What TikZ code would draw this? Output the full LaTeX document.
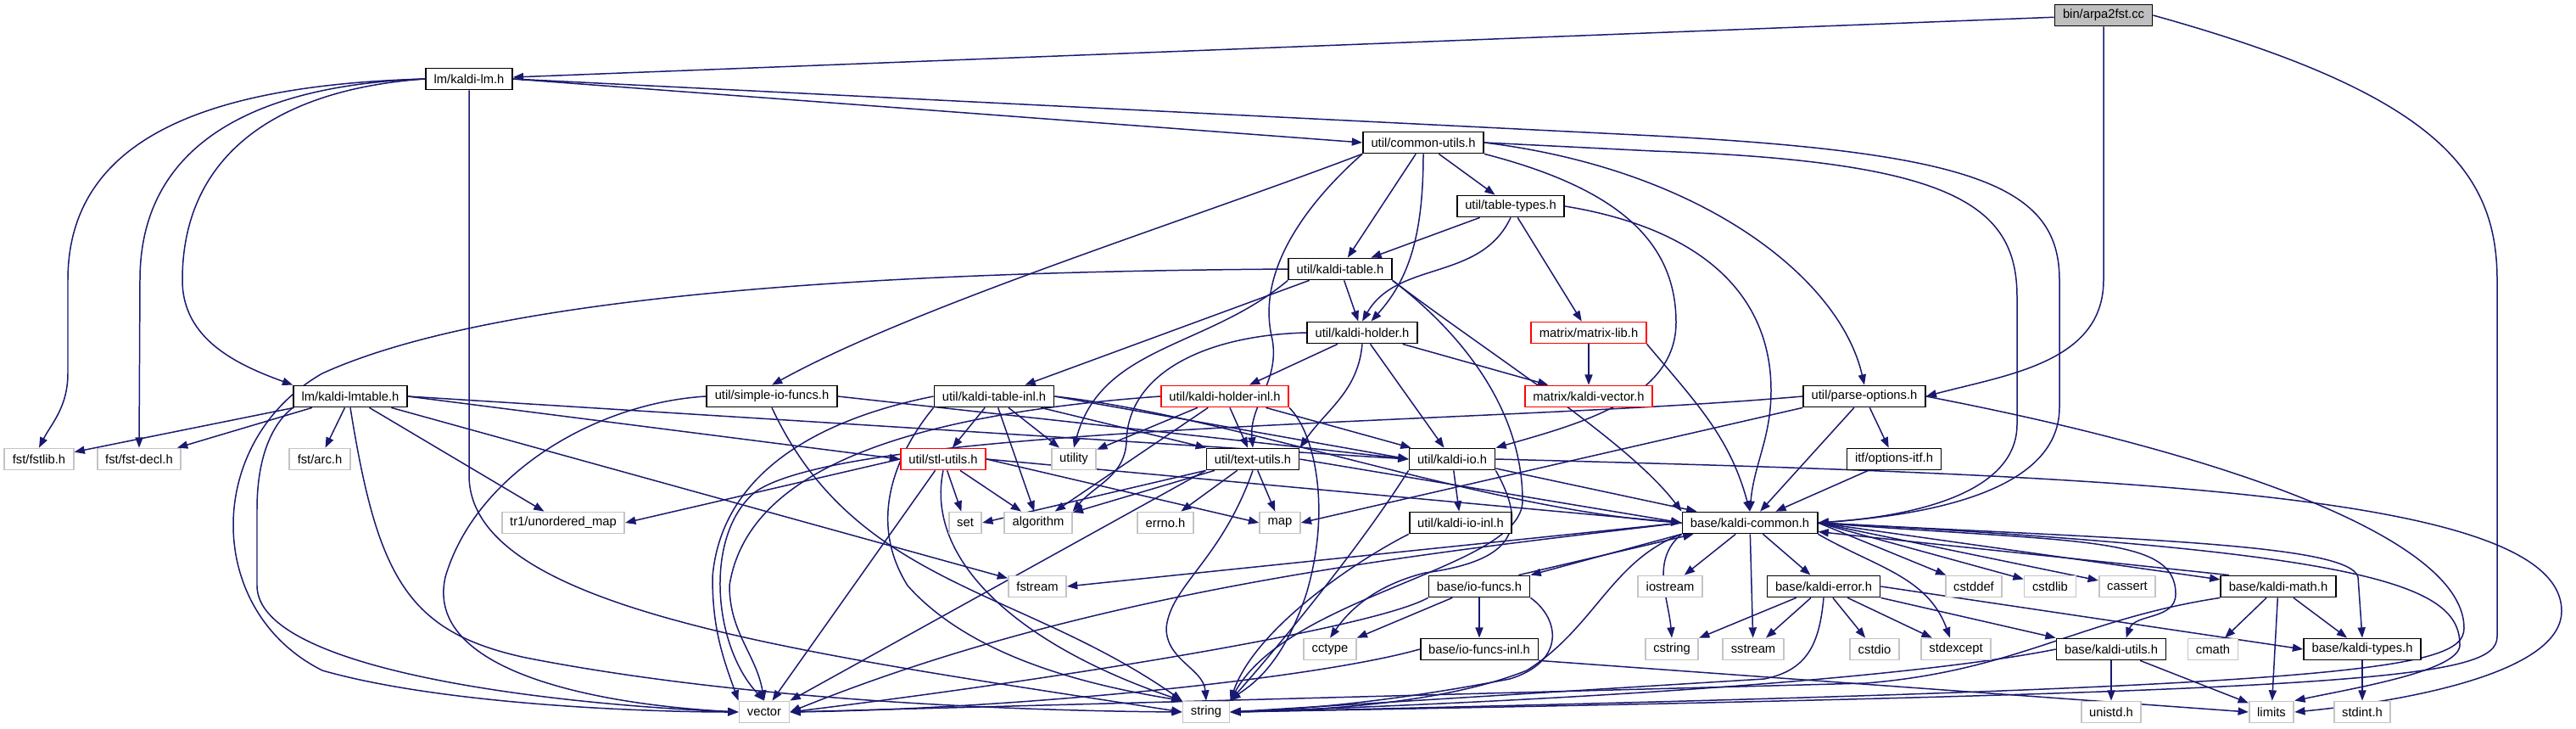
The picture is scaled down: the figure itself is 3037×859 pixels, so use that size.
\documentclass[tikz,border=0pt]{standalone}
\usepackage{fontspec}
\setmainfont{Liberation Sans}
\usepackage{tikz}
\usetikzlibrary{arrows.meta,backgrounds}
\definecolor{edgeblue}{HTML}{191970}
\definecolor{rootgray}{HTML}{BFBFBF}
\definecolor{sysgray}{HTML}{C4C4C4}
\definecolor{cutred}{HTML}{FF0000}
\tikzset{filebox/.style={draw=black,fill=white,line width=1pt,minimum height=.5cm,inner xsep=5.4pt,inner ysep=0pt,font=\fontsize{8.4}{10}\selectfont},rootbox/.style={filebox,fill=rootgray},cutbox/.style={filebox,draw=cutred},sysbox/.style={filebox,draw=sysgray},incl/.style={draw=edgeblue,line width=.85pt,-{Triangle[length=7pt,width=5.2pt]}}}

\begin{document}
\begin{tikzpicture}[x=0.02cm,y=0.02cm]
\useasboundingbox (0,0) rectangle (3037,-859);
\node[rootbox] (arpa) at (2480,-18) {bin/arpa2fst.cc};
\node[filebox] (kaldilm) at (553,-93) {lm/kaldi-lm.h};
\node[filebox] (commonutils) at (1678,-168) {util/common-utils.h};
\node[filebox] (tabletypes) at (1781,-243) {util/table-types.h};
\node[filebox] (kalditable) at (1580,-317) {util/kaldi-table.h};
\node[filebox] (kaldiholder) at (1606,-392) {util/kaldi-holder.h};
\node[cutbox] (matrixlib) at (1873,-392) {matrix/matrix-lib.h};
\node[filebox] (lmtable) at (413,-467) {lm/kaldi-lmtable.h};
\node[filebox] (simpleio) at (910,-467) {util/simple-io-funcs.h};
\node[filebox] (tableinl) at (1172,-467) {util/kaldi-table-inl.h};
\node[cutbox] (holderinl) at (1444,-467) {util/kaldi-holder-inl.h};
\node[cutbox] (kaldivector) at (1873,-467) {matrix/kaldi-vector.h};
\node[filebox] (parseoptions) at (2198,-467) {util/parse-options.h};
\node[sysbox] (fstlib) at (46,-541) {fst/fstlib.h};
\node[sysbox] (fstdecl) at (164,-541) {fst/fst-decl.h};
\node[sysbox] (fstarc) at (377,-541) {fst/arc.h};
\node[cutbox] (stlutils) at (1112,-541) {util/stl-utils.h};
\node[sysbox] (utility) at (1266,-541) {utility};
\node[filebox] (textutils) at (1477,-541) {util/text-utils.h};
\node[filebox] (kaldiio) at (1712,-541) {util/kaldi-io.h};
\node[filebox] (optionsitf) at (2233,-541) {itf/options-itf.h};
\node[sysbox] (unorderedmap) at (664,-616) {tr1/unordered\_map};
\node[sysbox] (set) at (1138,-616) {set};
\node[sysbox] (algorithm) at (1224,-616) {algorithm};
\node[sysbox] (errno) at (1374,-616) {errno.h};
\node[sysbox] (map) at (1509,-616) {map};
\node[filebox] (kaldiioinl) at (1722,-616) {util/kaldi-io-inl.h};
\node[filebox] (kaldicommon) at (2063,-616) {base/kaldi-common.h};
\node[sysbox] (fstream) at (1223,-691) {fstream};
\node[filebox] (iofuncs) at (1744,-691) {base/io-funcs.h};
\node[sysbox] (iostream) at (1969,-691) {iostream};
\node[filebox] (kaldierror) at (2150,-691) {base/kaldi-error.h};
\node[sysbox] (cstddef) at (2327,-691) {cstddef};
\node[sysbox] (cstdlib) at (2417,-691) {cstdlib};
\node[sysbox] (cassert) at (2508,-691) {cassert};
\node[filebox] (kaldimath) at (2686,-691) {base/kaldi-math.h};
\node[sysbox] (cctype) at (1568,-765) {cctype};
\node[filebox] (iofuncsinl) at (1744,-765) {base/io-funcs-inl.h};
\node[sysbox] (cstring) at (1971,-765) {cstring};
\node[sysbox] (sstream) at (2067,-765) {sstream};
\node[sysbox] (cstdio) at (2210,-765) {cstdio};
\node[sysbox] (stdexcept) at (2306,-765) {stdexcept};
\node[filebox] (kaldiutils) at (2489,-765) {base/kaldi-utils.h};
\node[sysbox] (cmath) at (2609,-765) {cmath};
\node[filebox] (kalditypes) at (2785,-765) {base/kaldi-types.h};
\node[sysbox] (vector) at (901,-839) {vector};
\node[sysbox] (string) at (1422,-839) {string};
\node[sysbox] (unistd) at (2489,-839) {unistd.h};
\node[sysbox] (limits) at (2678,-839) {limits};
\node[sysbox] (stdint) at (2785,-839) {stdint.h};
\begin{scope}[on background layer]
\draw[incl] (arpa) -- (kaldilm);
\draw[incl] (arpa.south) -- (2480,-330) to[out=-90,in=15] (parseoptions.east);
\draw[incl] (arpa.east) .. controls (2870,-110) and (2944,-200) .. (2944,-330) -- (2944,-750) .. controls (2944,-800) and (2800,-815) .. (string.east);
\draw[incl] (kaldilm.west) .. controls (250,-100) and (80,-160) .. (80,-330) -- (80,-440) .. controls (80,-480) and (60,-500) .. (fstlib.north);
\draw[incl] (kaldilm.west) .. controls (300,-100) and (165,-170) .. (165,-330) -- (fstdecl.north);
\draw[incl] (kaldilm.west) .. controls (330,-105) and (215,-180) .. (215,-330) .. controls (215,-400) and (280,-430) .. (lmtable.north west);
\draw[incl] (kaldilm.south) -- (553,-560) .. controls (553,-720) and (950,-770) .. (string.west);
\draw[incl] (kaldilm.east) -- (commonutils.west);
\draw[incl] (kaldilm.east) -- (1950,-160) .. controls (2330,-180) and (2428,-220) .. (2428,-330) -- (2428,-480) .. controls (2428,-570) and (2300,-605) .. (kaldicommon.east);
\draw[incl] (commonutils.east) -- (1950,-178) .. controls (2300,-190) and (2378,-240) .. (2378,-350) -- (2378,-500) .. controls (2378,-580) and (2260,-608) .. (kaldicommon.east);
\draw[incl] (commonutils.east) .. controls (2010,-200) and (2170,-330) .. (parseoptions.north);
\draw[incl] (commonutils.south east) .. controls (1900,-220) and (1976,-280) .. (1976,-380) .. controls (1976,-470) and (1860,-500) .. (kaldiio.north east);
\draw[incl] (commonutils) -- (tabletypes);
\draw[incl] (commonutils) -- (kalditable);
\draw[incl] (commonutils.south) .. controls (1678,-280) and (1660,-330) .. ([xshift=6pt]kaldiholder.north);
\draw[incl] (commonutils.south west) .. controls (1400,-260) and (1080,-360) .. (simpleio.north);
\draw[incl] (commonutils.south west) .. controls (1540,-240) and (1480,-320) .. (1500,-400) to[out=-80,in=95] (textutils.north);
\draw[incl] (tabletypes) -- (kalditable);
\draw[incl] (tabletypes.south) to[out=-115,in=60] (kaldiholder.north);
\draw[incl] (tabletypes) -- (matrixlib);
\draw[incl] (tabletypes.east) .. controls (2010,-270) and (2088,-350) .. (2088,-460) to[out=-90,in=85] (kaldicommon.north);
\draw[incl] (kalditable.west) .. controls (1100,-320) and (600,-340) .. (380,-440) .. controls (240,-520) and (240,-720) .. (380,-790) .. controls (520,-830) and (760,-839) .. (vector.west);
\draw[incl] (kalditable) -- (tableinl);
\draw[incl] (kalditable.south west) to[out=-140,in=75] (utility.north);
\draw[incl] (kalditable) -- (kaldiholder);
\draw[incl] (kalditable.south east) .. controls (1720,-390) and (1795,-480) .. (1795,-590) .. controls (1795,-670) and (1520,-700) .. (string.north east);
\draw[incl] (kalditable.south east) .. controls (1760,-420) and (1920,-520) .. (kaldicommon.north west);
\draw[incl] (kaldiholder) -- (holderinl);
\draw[incl] (kaldiholder) -- (kaldivector);
\draw[incl] (kaldiholder) -- (kaldiio);
\draw[incl] (kaldiholder.south) to[out=-95,in=55] (textutils.north east);
\draw[incl] (kaldiholder.west) .. controls (1420,-395) and (1330,-440) .. (1328,-520) to[out=-92,in=50] (algorithm.north east);
\draw[incl] (matrixlib) -- (kaldivector);
\draw[incl] (matrixlib.south east) to[out=-50,in=105] (kaldicommon.north);
\draw[incl] (lmtable) -- (fstlib);
\draw[incl] (lmtable) -- (fstdecl);
\draw[incl] (lmtable) -- (fstarc);
\draw[incl] (lmtable) -- (unorderedmap);
\draw[incl] (lmtable.south west) .. controls (320,-500) and (303,-540) .. (303,-600) -- (303,-690) .. controls (303,-790) and (650,-830) .. (vector.west);
\draw[incl] (lmtable.south) .. controls (445,-680) and (480,-745) .. (620,-775) .. controls (900,-830) and (1250,-838) .. (string.west);
\draw[incl] (lmtable) -- (fstream);
\draw[incl] (lmtable.east) -- (stlutils.west);
\draw[incl] (lmtable.east) -- (kaldiio.west);
\draw[incl] (simpleio.west) .. controls (700,-475) and (560,-560) .. (525,-680) .. controls (500,-790) and (700,-830) .. (vector.west);
\draw[incl] (simpleio.south) to[out=-65,in=145] (string.north west);
\draw[incl] (simpleio.east) -- (kaldiio.west);
\draw[incl] (tableinl) -- (stlutils);
\draw[incl] (tableinl) -- (algorithm);
\draw[incl] (tableinl) -- (utility);
\draw[incl] (tableinl) -- (textutils);
\draw[incl] (tableinl.east) -- (kaldiio.west);
\draw[incl] (tableinl.east) .. controls (1450,-490) and (1750,-600) .. (kaldicommon.west);
\draw[incl] (tableinl.south west) .. controls (1060,-530) and (1020,-610) .. (1070,-690) .. controls (1150,-780) and (1300,-810) .. (string.north west);
\draw[incl] (tableinl.west) .. controls (960,-495) and (850,-560) .. (840,-680) to[out=-90,in=110] (vector.north west);
\draw[incl] (holderinl) -- (utility);
\draw[incl] (holderinl) -- (algorithm);
\draw[incl] (holderinl) -- (textutils);
\draw[incl] (holderinl) -- (kaldiio);
\draw[incl] (holderinl.south east) .. controls (1550,-510) and (1570,-600) .. (1540,-700) .. controls (1510,-790) and (1470,-810) .. (string.north east);
\draw[incl] (holderinl.west) .. controls (1050,-490) and (880,-560) .. (860,-690) to[out=-90,in=100] (vector.north);
\draw[incl] (parseoptions.south west) -- (map.east);
\draw[incl] (parseoptions) -- (kaldicommon);
\draw[incl] (parseoptions) -- (optionsitf);
\draw[incl] (parseoptions.west) .. controls (1750,-500) and (1000,-500) .. (890,-580) .. controls (830,-630) and (840,-760) .. (vector.north);
\draw[incl] (parseoptions.east) .. controls (2650,-540) and (2905,-640) .. (2905,-740) .. controls (2905,-790) and (2780,-810) .. (string.east);
\draw[incl] (optionsitf) -- (kaldicommon);
\draw[incl] (stlutils.west) -- (unorderedmap.east);
\draw[incl] (stlutils) -- (vector);
\draw[incl] (stlutils.south) .. controls (1090,-660) and (1200,-760) .. (string.north west);
\draw[incl] (stlutils) -- (set);
\draw[incl] (stlutils) -- (algorithm);
\draw[incl] (stlutils.east) -- (map.west);
\draw[incl] (stlutils.east) -- (kaldicommon.west);
\draw[incl] (textutils.south west) -- (set.east);
\draw[incl] (textutils) -- (algorithm);
\draw[incl] (textutils.south west) -- (vector.north east);
\draw[incl] (textutils) -- (errno);
\draw[incl] (textutils.south) .. controls (1440,-660) and (1380,-690) .. (1375,-740) to[out=-90,in=95] (string.north);
\draw[incl] (textutils) -- (map);
\draw[incl] (textutils.east) -- (kaldicommon.west);
\draw[incl] (kaldiio) -- (kaldiioinl);
\draw[incl] (kaldiio) -- (kaldicommon);
\draw[incl] (kaldiio.east) .. controls (2500,-560) and (3020,-580) .. (3020,-720) .. controls (3020,-800) and (2800,-830) .. (limits.east);
\draw[incl] (kaldiio.south west) .. controls (1600,-650) and (1500,-770) .. (string.north east);
\draw[incl] (kaldiio.south east) .. controls (1800,-620) and (1790,-660) .. (1680,-675) .. controls (1620,-690) and (1590,-720) .. (cctype.north);
\draw[incl] (kaldiioinl.south west) .. controls (1600,-660) and (1480,-740) .. (string.north east);
\draw[incl] (kaldicommon.west) -- (fstream.east);
\draw[incl] (kaldicommon.west) .. controls (1700,-650) and (1300,-690) .. (vector.east);
\draw[incl] (kaldicommon.south west) .. controls (1900,-660) and (1880,-740) .. (1800,-790) .. controls (1700,-830) and (1550,-837) .. (string.east);
\draw[incl] (kaldicommon.south west) -- (iofuncs.north east);
\draw[incl] ([xshift=-8pt]iofuncs.north east) -- ([xshift=8pt]kaldicommon.south west);
\draw[incl] (kaldicommon) -- (iostream);
\draw[incl] (kaldicommon.south west) to[out=-140,in=95] (cstring.north);
\draw[incl] (kaldicommon) -- (sstream);
\draw[incl] (kaldicommon) -- (kaldierror);
\draw[incl] (kaldicommon.east) -- (cstddef);
\draw[incl] (kaldicommon.east) -- (cstdlib);
\draw[incl] (kaldicommon.east) -- (cassert);
\draw[incl] (kaldicommon.south east) to[out=-30,in=110] ([xshift=-4pt]stdexcept.north);
\draw[incl] (kaldicommon.east) -- ([yshift=-3pt]kaldimath.north west);
\draw[incl] ([xshift=6pt]kaldimath.north west) -- ([yshift=-6pt]kaldicommon.east);
\draw[incl] (kaldicommon.east) .. controls (2450,-640) and (2565,-630) .. (2565,-700) to[out=-90,in=70] ([xshift=10pt]kaldiutils.north);
\draw[incl] (kaldicommon.east) .. controls (2500,-635) and (2770,-640) .. (2780,-680) -- (kalditypes.north);
\draw[incl] (kaldicommon.east) .. controls (2800,-650) and (2900,-690) .. (2900,-760) .. controls (2900,-790) and (2780,-810) .. (limits.north east);
\draw[incl] (kaldierror) -- (cstring);
\draw[incl] (kaldierror) -- (sstream);
\draw[incl] (kaldierror) -- (cstdio);
\draw[incl] (kaldierror) -- (stdexcept);
\draw[incl] (kaldierror.south) .. controls (2145,-760) and (2130,-790) .. (2080,-800) -- (string.east);
\draw[incl] (kaldierror.south east) -- (kaldiutils.north west);
\draw[incl] (kaldierror.east) -- (kalditypes.west);
\draw[incl] (iofuncs) -- (cctype);
\draw[incl] (iofuncs.south west) .. controls (1620,-740) and (1250,-800) .. (vector.east);
\draw[incl] (iofuncs) -- (iofuncsinl);
\draw[incl] (iofuncs.south east) .. controls (1840,-730) and (1845,-780) .. (1780,-800) .. controls (1650,-825) and (1550,-835) .. (string.east);
\draw[incl] (iofuncsinl.west) .. controls (1550,-800) and (1200,-835) .. (vector.east);
\draw[incl] (iofuncsinl.south east) -- (limits.west);
\draw[incl] (kaldimath) -- (cmath);
\draw[incl] (kaldimath) -- (limits);
\draw[incl] (kaldimath) -- (kalditypes);
\draw[incl] (kaldimath.south west) .. controls (2450,-730) and (2380,-790) .. (2200,-805) -- (vector.east);
\draw[incl] (kaldiutils) -- (unistd);
\draw[incl] (kaldiutils) -- (limits);
\draw[incl] (kaldiutils.west) .. controls (2300,-790) and (2000,-820) .. (string.east);
\draw[incl] (kalditypes) -- (stdint);
\end{scope}
\end{tikzpicture}
\end{document}
